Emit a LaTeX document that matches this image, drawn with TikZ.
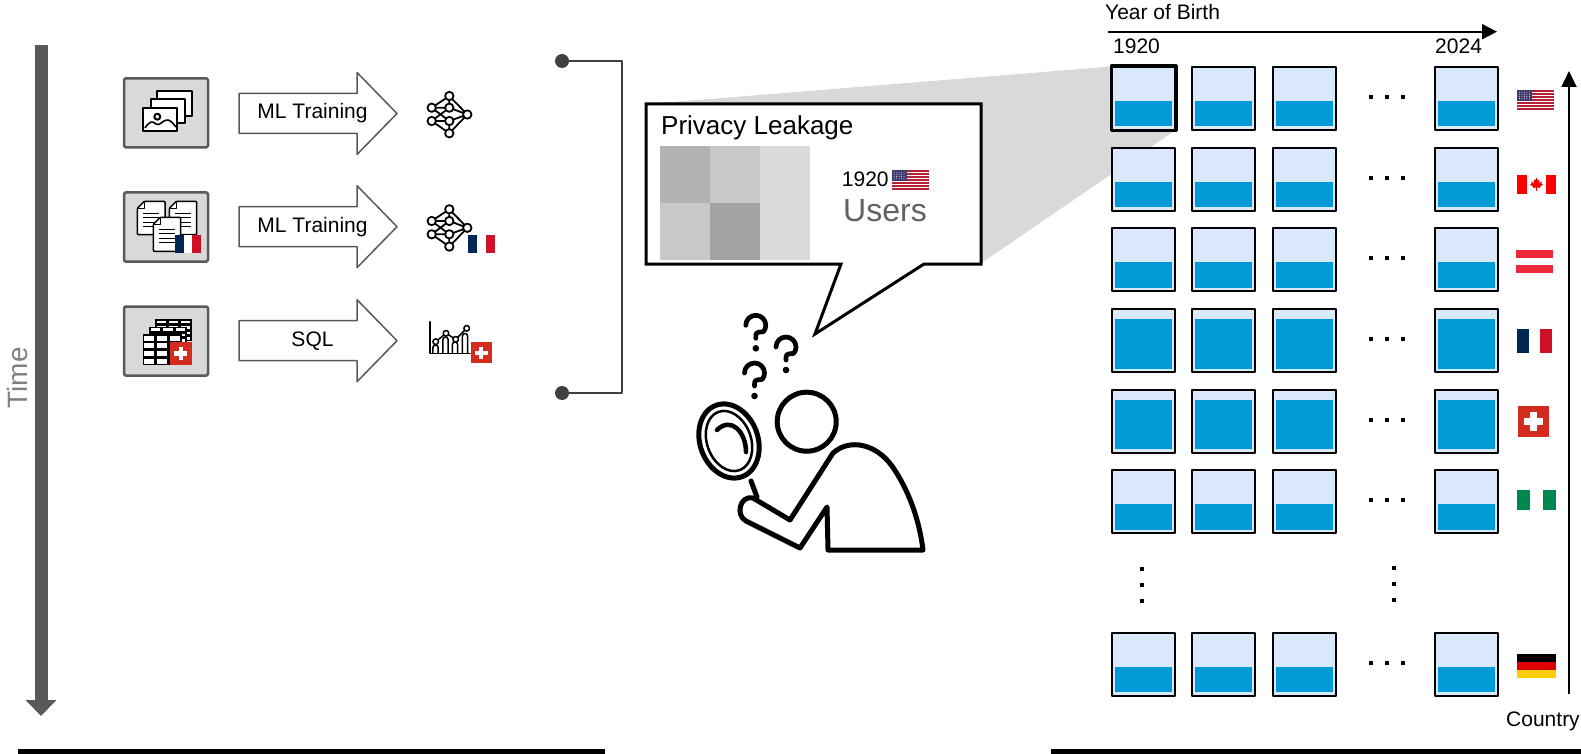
\documentclass[tikz,border=0pt]{standalone}
\usepackage{fontspec}
\setmainfont{Liberation Sans}
\usetikzlibrary{arrows.meta,calc}

\definecolor{boxgray}{HTML}{D9D9D9}
\definecolor{edgegray}{HTML}{595959}
\definecolor{brackgray}{HTML}{404040}
\definecolor{cellbg}{HTML}{DAE8FC}
\definecolor{cellfill}{HTML}{009AD6}
\definecolor{frblue}{HTML}{002654}
\definecolor{frred}{HTML}{CE1126}
\definecolor{chred}{HTML}{D52B1E}
\definecolor{usred}{HTML}{B22234}
\definecolor{usblue}{HTML}{3C3B6E}
\definecolor{cared}{HTML}{FF0000}
\definecolor{atred}{HTML}{ED2939}
\definecolor{nggreen}{HTML}{008751}
\definecolor{dered}{HTML}{DD0000}
\definecolor{degold}{HTML}{FFCE00}

% ---------- flags: x y (top left), width, height ----------
\newcommand\usflag[4]{%
  \fill[white] (#1,#2) rectangle ++(#3,#4);
  \foreach \i in {0,2,...,12}
    \fill[usred] (#1,{#2+\i*#4/13}) rectangle ({#1+#3},{#2+(\i+1)*#4/13});
  \fill[usblue] (#1,#2) rectangle ({#1+0.4*#3},{#2+7*#4/13});
  \foreach \a in {1,...,5} \foreach \b in {1,...,4}
    \fill[white] ({#1+\a*0.4*#3/6},{#2+\b*7*#4/65}) circle[radius=0.45pt];
}
\newcommand\frflag[4]{%
  \fill[frblue] (#1,#2) rectangle ++({#3/3},#4);
  \fill[white] ({#1+#3/3},#2) rectangle ++({#3/3},#4);
  \fill[frred] ({#1+2*#3/3},#2) rectangle ++({#3/3},#4);
}
\newcommand\chflag[4]{%
  \fill[chred] (#1,#2) rectangle ++(#3,#4);
  \fill[white] ({#1+0.4*#3},{#2+0.2*#4}) rectangle ({#1+0.6*#3},{#2+0.8*#4});
  \fill[white] ({#1+0.2*#3},{#2+0.4*#4}) rectangle ({#1+0.8*#3},{#2+0.6*#4});
}
\newcommand\caflag[4]{%
  \fill[white] (#1,#2) rectangle ++(#3,#4);
  \fill[cared] (#1,#2) rectangle ++({#3/4},#4);
  \fill[cared] ({#1+3*#3/4},#2) rectangle ++({#3/4},#4);
  \begin{scope}[shift={({#1+#3/2},{#2+#4/2})},scale={0.36*#4}]
    \fill[cared] (0,-1) -- (0.2,-0.6) -- (0.45,-0.7) -- (0.35,-0.2) -- (0.8,-0.45)
      -- (0.7,-0.15) -- (0.95,0.05) -- (0.5,0.3) -- (0.55,0.5) -- (0.06,0.45)
      -- (0.06,0.95) -- (-0.06,0.95) -- (-0.06,0.45) -- (-0.55,0.5) -- (-0.5,0.3)
      -- (-0.95,0.05) -- (-0.7,-0.15) -- (-0.8,-0.45) -- (-0.35,-0.2)
      -- (-0.45,-0.7) -- (-0.2,-0.6) -- cycle;
  \end{scope}
}
\newcommand\atflag[4]{%
  \fill[atred] (#1,#2) rectangle ++(#3,{#4/3});
  \fill[white] (#1,{#2+#4/3}) rectangle ++(#3,{#4/3});
  \fill[atred] (#1,{#2+2*#4/3}) rectangle ++(#3,{#4/3});
}
\newcommand\ngflag[4]{%
  \fill[nggreen] (#1,#2) rectangle ++({#3/3},#4);
  \fill[white] ({#1+#3/3},#2) rectangle ++({#3/3},#4);
  \fill[nggreen] ({#1+2*#3/3},#2) rectangle ++({#3/3},#4);
}
\newcommand\deflag[4]{%
  \fill[black] (#1,#2) rectangle ++(#3,{#4/3});
  \fill[dered] (#1,{#2+#4/3}) rectangle ++(#3,{#4/3});
  \fill[degold] (#1,{#2+2*#4/3}) rectangle ++(#3,{#4/3});
}

% ---------- small icons ----------
% neural network, centred at (#1,#2)
\newcommand\nnicon[2]{%
  \begin{scope}[shift={(#1,#2)},line width=1.8pt]
    \draw (0,-18.5) -- (-17.6,-6.8) (0,-18.5) -- (0,-6.8) (0,-18.5) -- (18,0)
          (-17.6,-6.8) -- (0,-6.8) (-17.6,-6.8) -- (0,6.5)
          (-17.6,6.5) -- (0,-6.8) (-17.6,6.5) -- (0,6.5)
          (0,-6.8) -- (18,0) (0,6.5) -- (18,0)
          (0,18.8) -- (-17.6,6.5) (0,18.8) -- (0,6.5) (0,18.8) -- (18,0);
    \foreach \p in {(0,-18.5),(-17.6,-6.8),(-17.6,6.5),(0,-6.8),(0,6.5),(18,0),(0,18.8)}
      \filldraw[fill=white] \p circle[radius=4.2pt];
  \end{scope}
}
% document with folded corner: x0 y0 x1 y1
\newcommand\docicon[4]{%
  \filldraw[fill=white,line width=1.5pt,rounded corners=1pt]
    ({#1+7},#2) -- (#3,#2) -- (#3,#4) -- (#1,#4) -- (#1,{#2+7}) -- cycle;
  \draw[line width=1.5pt] (#1,{#2+7}) -- ({#1+7},{#2+7}) -- ({#1+7},#2);
  \foreach \k in {0,1,2,3}
    \draw[line width=1.3pt] ({#1+6},{#2+12+\k*4.5}) -- ({#3-6},{#2+12+\k*4.5});
}
% spreadsheet: x0 y0 x1 y1
\newcommand\tblicon[4]{%
  \fill[black] (#1,#2) rectangle (#3,#4);
  \foreach \i in {0,1,2,3} \foreach \j in {0,1,2}
    \fill[white] ({#1+\j*(#3-#1)/3+1.6},{#2+\i*(#4-#2)/4+1.4})
      rectangle ({#1+(\j+1)*(#3-#1)/3-1.6},{#2+(\i+1)*(#4-#2)/4-1.4});
}
% question mark with its top at (#1,#2)
\newcommand\qmark[2]{%
  \draw[line width=4.7pt,line cap=round]
    ({#1-10},{#2+12}) arc[start angle=180,end angle=-40,radius=10pt]
    .. controls ({#1},{#2+19}) .. ({#1},{#2+25});
  \fill ({#1},{#2+35}) circle[radius=3.3pt];
}

\begin{document}
\begin{tikzpicture}[x=1pt,y=-1pt,line join=round,
  srcbox/.style={draw=edgegray,fill=boxgray,line width=2.5pt,rounded corners=1.5pt,
    minimum width=84pt,minimum height=69pt,inner sep=0pt},
  bigarrow/.style={draw=edgegray,fill=white,line width=1.5pt},
  lbl/.style={inner sep=0pt,font=\fontsize{21}{25}\selectfont},
  cell/.style={draw=black,line width=2pt,fill=cellbg,minimum size=63pt,
    inner sep=0pt,anchor=north west},
  dotsq/.style={fill=black,minimum size=4pt,inner sep=0pt},
  pin/.style={circle,fill=brackgray,minimum size=14pt,inner sep=0pt},
]
\useasboundingbox (0,0) rectangle (1581,754);

% ---------- time axis ----------
\coordinate (t0) at (41,45);
\coordinate (t1) at (41,716);
\draw[edgegray,line width=13pt,-{Triangle[length=16pt,width=30pt]}] (t0) -- (t1);
\node[lbl,rotate=90,text=black!50,font=\fontsize{28}{30}\selectfont] (time) at (17,378) {Time};

% ---------- bottom rules ----------
\coordinate (r0) at (18,751); \coordinate (r1) at (605,751);
\coordinate (r2) at (1051,751); \coordinate (r3) at (1581,751);
\draw[line width=5pt] (r0) -- (r1);
\draw[line width=5pt] (r2) -- (r3);

% ---------- processing pipelines ----------
\node[srcbox] (src1) at (166,112.8) {};
\node[srcbox] (src2) at (166,227) {};
\node[srcbox] (src3) at (166,341) {};

\foreach \cy/\nm/\tx in {113.5/a1/ML Training,226.7/a2/ML Training,340.7/a3/SQL}{
  \path[bigarrow] (239,\cy-20) -- (357,\cy-20) -- (357,\cy-41) -- (397,\cy)
    -- (357,\cy+41) -- (357,\cy+20) -- (239,\cy+20) -- cycle;
  \node[lbl] (\nm) at (312.5,\cy) {\tx};
}

% photo stack
\begin{scope}[line width=2pt]
  \filldraw[fill=white] (157.3,91) rectangle (191.7,115.7);
  \filldraw[fill=white] (150.7,99) rectangle (185,123.3);
  \filldraw[fill=white] (143.3,107.7) rectangle (177.3,131);
  \draw (157.3,116.7) circle[radius=3pt];
  \draw[line width=1.6pt] (145,128) .. controls (149,122) and (152,120) .. (156,124)
    .. controls (160,127) and (163,119) .. (168,120) .. controls (172,121) and (174,125) .. (176,127);
\end{scope}

% document stack
\docicon{137.3}{201.3}{165}{234.7}
\docicon{169.3}{201.3}{196.7}{234.7}
\docicon{153.3}{217.3}{180.7}{251.3}
\frflag{175}{235.3}{25.7}{17.7}

% table stack
\tblicon{155}{319.3}{191.7}{341}
\tblicon{149.3}{326.5}{186.7}{349}
\tblicon{142.7}{334.3}{181.7}{365.3}
\chflag{170}{342}{21.7}{22.7}

% outputs
\nnicon{449.3}{114.5}
\nnicon{449.3}{227.8}
\frflag{468}{235}{27}{17.7}

\begin{scope}[line width=1.5pt,line cap=round]
  \draw (430,321.7) -- (430,353.3) -- (470,353.3);
  \foreach \bx/\bt in {435.5/345,445.5/337,455/342,465/333.5}
    \draw (\bx-2.6,353.3) -- (\bx-2.6,\bt+2.6) arc[start angle=180,end angle=0,radius=2.6pt] -- (\bx+2.6,353.3);
  \draw (435.7,341.7) -- (446,333.3) -- (455.7,339.3) -- (466.7,328.3);
  \foreach \p in {(435.7,341.7),(446,333.3),(455.7,339.3),(466.7,328.3)}
    \filldraw[fill=white] \p circle[radius=2.8pt];
\end{scope}
\chflag{471}{342.3}{20.7}{21}

% ---------- bracket ----------
\node[pin] (pinA) at (562,61) {};
\node[pin] (pinB) at (562,393) {};
\draw[brackgray,line width=2pt] (pinA.center) -- ++(60,0) |- (pinB.center);

% ---------- zoom cone, speech bubble ----------
\fill[boxgray] (648,104) -- (1111,66.5) -- (1175,130.5) -- (980,264) -- cycle;
\filldraw[fill=white,line width=3pt,line join=miter]
  (646,104) -- (981,104) -- (981,264) -- (924,264) -- (815,334) -- (841,264)
  -- (646,264) -- cycle;

\fill[black!30]   (660,146) rectangle (710,203);
\fill[black!21.5] (710,146) rectangle (760,203);
\fill[black!14.5] (760,146) rectangle (810,260);
\fill[black!21.5] (660,203) rectangle (710,260);
\fill[black!36]   (710,203) rectangle (760,260);

\node[inner sep=0pt,anchor=base west,font=\fontsize{26}{30}\selectfont] (leak) at (661,135) {Privacy Leakage};
\node[lbl,anchor=base west] (byear) at (841.7,186.7) {1920};
\usflag{891.7}{170}{37}{20}
\node[inner sep=0pt,anchor=base west,text=black!62,font=\fontsize{32}{36}\selectfont] (users) at (843,221.7) {Users};

% ---------- person with magnifier ----------
\qmark{755.8}{313.3}
\qmark{786}{335}
\qmark{754.5}{361}

\draw[line width=5pt,fill=white] (806.7,421.7) circle[radius=29.5pt];

\draw[line width=5pt,line cap=round] (751,481) -- (757,497);
\begin{scope}[rotate around={20:(729,441)}]
  \draw[line width=5pt] (729,441) ellipse[x radius=29pt,y radius=38pt];
  \draw[line width=2.5pt] (729,441) ellipse[x radius=22pt,y radius=31pt];
\end{scope}
\draw[line width=4.5pt,line cap=round] (717,430) .. controls (731,416) and (746,432) .. (746,452);

\filldraw[fill=white,line width=5pt]
  (753,498) -- (790,520) -- (833,453) .. controls (850,438) and (876,444) .. (892,466)
  .. controls (908,489) and (919,518) .. (923,550) -- (828,550) -- (827,507)
  -- (800,548) -- (746,521) .. controls (735,515) and (740,495) .. (753,498) -- cycle;

% ---------- year/country grid ----------
\node[lbl,anchor=base west] (yob) at (1105,20) {Year of Birth};
\coordinate (ya0) at (1108,31.7);
\coordinate (ya1) at (1497,31.7);
\draw[line width=1.8pt,-{Triangle[length=15pt,width=15pt]}] (ya0) -- (ya1);
\node[lbl,anchor=base west] (y1920) at (1113,53.3) {1920};
\node[lbl,anchor=base west] (y2024) at (1435,53.3) {2024};

\foreach \r/\ty/\lv in {0/66/35,1/146.7/35,2/227.3/35,3/308/11,4/388.7/11,5/469.3/35,7/631.7/35}{
  \foreach \c/\tx in {0/1111,1/1191.3,2/1271.7,3/1434}{
    \node[cell] (c\r\c) at (\tx,\ty) {};
    \fill[cellfill] (\tx+4,\ty+\lv) rectangle (\tx+61,\ty+60.5);
  }
  \foreach \dx in {1371,1387.3,1403.3}
    \node[dotsq] (d\r-\dx) at (\dx,\ty+31) {};
}
\draw[line width=3pt] (c00.north west) rectangle (c00.south east);

\foreach \dy in {568.7,584.7,600.7}{
  \node[dotsq] (vl\dy) at (1141.7,\dy) {};
  \node[dotsq] (vr\dy) at (1394,\dy-1) {};
}

\usflag{1517}{90}{37}{20}
\caflag{1517}{175}{39}{19}
\atflag{1516}{250}{37}{23}
\frflag{1517}{329}{35}{23.7}
\chflag{1518}{406}{31}{31}
\ngflag{1517}{490}{39}{20}
\deflag{1517}{654}{39}{24}

\coordinate (ca0) at (1569,694);
\coordinate (ca1) at (1569,71);
\draw[line width=1.8pt,-{Triangle[length=16pt,width=15pt]}] (ca0) -- (ca1);
\node[lbl,anchor=base west] (ctry) at (1506,726.7) {Country};

\end{tikzpicture}
\end{document}
